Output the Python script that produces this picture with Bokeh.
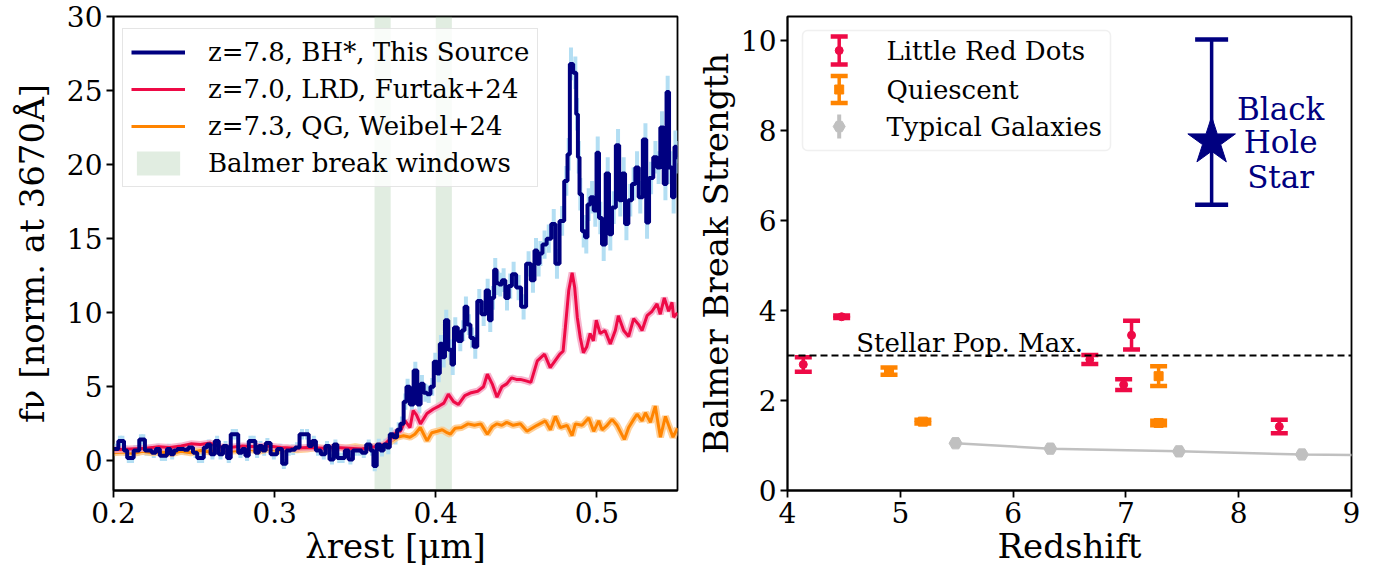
import numpy as np
from bokeh.plotting import figure
from bokeh.layouts import row
from bokeh.models import (Range1d, FixedTicker, Span, Label, Legend, LegendItem,
                          BoxAnnotation)
from bokeh.embed import file_html
from bokeh.resources import INLINE

FONT = "DejaVu Serif"

# ---------------------------------------------------------------- spectra
# rest-frame wavelength [um] and flux normalised at 3670 A
bh_wave = [
    0.2000, 0.2020, 0.2040, 0.2055, 0.2075, 0.2095, 0.2115, 0.2135, 0.2150, 0.2170,
    0.2185, 0.2205, 0.2225, 0.2250, 0.2275, 0.2300, 0.2320, 0.2343, 0.2364, 0.2385,
    0.2405, 0.2426, 0.2450, 0.2478, 0.2509, 0.2530, 0.2550, 0.2570, 0.2591, 0.2614,
    0.2643, 0.2664, 0.2695, 0.2715, 0.2740, 0.2760, 0.2788, 0.2808, 0.2829, 0.2850,
    0.2870, 0.2891, 0.2912, 0.2935, 0.2955, 0.2995, 0.3036, 0.3057, 0.3088, 0.3115,
    0.3139, 0.3170, 0.3201, 0.3222, 0.3243, 0.3269, 0.3305, 0.3325, 0.3356, 0.3377,
    0.3401, 0.3422, 0.3449, 0.3470, 0.3501, 0.3526, 0.3553, 0.3584, 0.3605, 0.3621,
    0.3646, 0.3666, 0.3687, 0.3705, 0.3724, 0.3750, 0.3770, 0.3790, 0.3811, 0.3825,
    0.3852, 0.3873, 0.3898, 0.3914, 0.3935, 0.3956, 0.3978, 0.3997, 0.4018, 0.4032,
    0.4049, 0.4065, 0.4090, 0.4105, 0.4121, 0.4152, 0.4170, 0.4187, 0.4205, 0.4225,
    0.4245, 0.4270, 0.4297, 0.4322, 0.4338, 0.4355, 0.4369, 0.4385, 0.4400, 0.4421,
    0.4442, 0.4462, 0.4483, 0.4514, 0.4545, 0.4576, 0.4603, 0.4622, 0.4638, 0.4649,
    0.4675, 0.4701, 0.4732, 0.4752, 0.4784, 0.4810, 0.4825, 0.4839, 0.4866, 0.4877,
    0.4887, 0.4897, 0.4918, 0.4934, 0.4949, 0.4970, 0.4990, 0.5005, 0.5021, 0.5042,
    0.5067, 0.5083, 0.5104, 0.5131, 0.5145, 0.5166, 0.5183, 0.5207, 0.5228, 0.5249,
    0.5269, 0.5301, 0.5311, 0.5336, 0.5363, 0.5383, 0.5404, 0.5425, 0.5439, 0.5456,
    0.5476, 0.5487, 0.5500,
]
bh_flux = [
    0.80, 0.80, 1.35, 1.35, 0.70, 0.20, 0.20, 0.70, 0.70, 1.45,
    1.45, 0.70, 0.70, 0.55, 0.80, 0.35, 0.35, 0.80, 0.45, 0.70,
    0.80, 0.80, 0.75, 0.90, 0.55, 0.20, 0.20, 0.90, 1.10, 0.45,
    1.35, 0.45, 1.00, 0.20, 1.80, 1.80, 0.55, 0.80, 0.35, 1.35,
    1.35, 0.55, 1.00, 0.70, 1.20, 0.45, 0.80, -0.20, 0.70, 0.75,
    0.90, 1.80, 1.80, 1.00, 1.35, 0.70, 0.45, 1.00, 0.10, 1.10,
    0.20, 0.20, 0.70, 0.10, 0.70, 0.70, 0.55, 1.10, 0.70, -0.35,
    1.10, 0.70, 1.10, 0.90, 1.80, 1.60, 2.10, 2.50, 4.00, 5.00,
    3.80, 6.10, 3.80, 5.20, 4.60, 4.50, 5.00, 6.70, 5.90, 7.90,
    7.00, 9.50, 7.50, 6.50, 9.00, 8.10, 8.80, 10.40, 9.20, 8.30,
    7.70, 10.80, 9.90, 11.50, 9.50, 11.00, 12.90, 12.00, 11.90, 12.20,
    11.00, 11.80, 12.60, 11.70, 10.40, 13.30, 12.20, 14.20, 13.30, 14.00,
    14.60, 15.00, 16.00, 13.30, 16.20, 18.90, 20.70, 26.80, 26.20, 23.40,
    20.50, 18.00, 15.50, 15.10, 17.30, 17.80, 16.90, 20.80, 16.40, 14.60,
    19.40, 15.30, 17.10, 21.30, 17.60, 19.40, 16.00, 17.60, 18.70, 19.80,
    17.80, 21.70, 16.10, 19.10, 20.50, 19.80, 22.50, 18.70, 24.90, 19.80,
    17.80, 21.20, 20.50,
]
bh_flux_err = [
    0.35, 0.35, 0.35, 0.35, 0.35, 0.35, 0.35, 0.35, 0.35, 0.35,
    0.35, 0.35, 0.35, 0.35, 0.35, 0.35, 0.35, 0.35, 0.35, 0.35,
    0.35, 0.35, 0.35, 0.35, 0.35, 0.35, 0.35, 0.35, 0.35, 0.35,
    0.35, 0.35, 0.35, 0.35, 0.35, 0.35, 0.35, 0.35, 0.35, 0.35,
    0.35, 0.35, 0.35, 0.35, 0.35, 0.35, 0.35, 0.35, 0.35, 0.35,
    0.35, 0.35, 0.35, 0.35, 0.35, 0.35, 0.35, 0.35, 0.35, 0.35,
    0.35, 0.35, 0.35, 0.35, 0.35, 0.35, 0.35, 0.35, 0.35, 0.35,
    0.40, 0.40, 0.40, 0.45, 0.45, 0.50, 0.50, 0.50, 0.55, 0.55,
    0.60, 0.60, 0.60, 0.60, 0.60, 0.60, 0.60, 0.60, 0.60, 0.60,
    0.70, 0.70, 0.70, 0.70, 0.70, 0.70, 0.70, 0.70, 0.70, 0.70,
    0.80, 0.80, 0.80, 0.80, 0.80, 0.80, 0.80, 0.80, 0.80, 0.80,
    0.85, 0.85, 0.85, 0.85, 0.85, 0.85, 0.85, 0.85, 0.85, 0.85,
    0.95, 0.95, 1.00, 1.00, 1.00, 1.00, 1.10, 1.10, 1.10, 1.10,
    1.10, 1.10, 1.10, 1.10, 1.10, 1.10, 1.10, 1.10, 1.10, 1.10,
    1.10, 1.10, 1.10, 1.10, 1.10, 1.10, 1.10, 1.10, 1.10, 1.10,
    1.10, 1.10, 1.10, 1.10, 1.10, 1.10, 1.10, 1.10, 1.10, 1.10,
    1.10, 1.10, 1.10,
]

lrd_wave = [
    0.200, 0.210, 0.220, 0.228, 0.235, 0.242, 0.248, 0.254, 0.260, 0.266,
    0.272, 0.280, 0.288, 0.296, 0.304, 0.312, 0.320, 0.330, 0.338, 0.346,
    0.354, 0.362, 0.368, 0.372, 0.376, 0.378, 0.381, 0.384, 0.386, 0.388,
    0.3905, 0.3945, 0.3985, 0.402, 0.405, 0.4078, 0.411, 0.414, 0.418, 0.422,
    0.426, 0.4296, 0.432, 0.435, 0.438, 0.441, 0.444, 0.447, 0.450, 0.4525,
    0.456, 0.459, 0.463, 0.4675, 0.471, 0.474, 0.477, 0.479, 0.4804, 0.4825,
    0.4846, 0.4862, 0.4878, 0.4897, 0.4916, 0.4937, 0.4958, 0.4978, 0.4996, 0.502,
    0.505, 0.5083, 0.5114, 0.5133, 0.5166, 0.5197, 0.5228, 0.5259, 0.528, 0.5311,
    0.5342, 0.5373, 0.5393, 0.5418, 0.5445, 0.5466, 0.5476, 0.550,
]
lrd_flux = [
    0.75, 0.80, 0.85, 0.95, 0.90, 1.00, 1.15, 1.10, 1.20, 0.95,
    0.90, 1.00, 0.95, 1.00, 0.90, 0.85, 0.90, 0.85, 0.90, 0.85,
    0.80, 0.95, 1.10, 1.50, 2.00, 2.00, 2.70, 2.25, 3.40, 3.10,
    2.50, 3.20, 3.50, 3.70, 3.90, 4.50, 4.00, 3.80, 4.40, 4.60,
    4.70, 5.00, 5.85, 5.20, 4.30, 5.00, 5.20, 5.60, 5.50, 5.50,
    5.40, 5.30, 6.75, 7.20, 6.30, 6.75, 7.20, 7.40, 9.00, 11.50,
    12.70, 11.70, 9.70, 8.30, 7.30, 7.70, 8.60, 8.10, 9.50, 8.60,
    8.80, 7.90, 8.80, 9.80, 8.80, 8.40, 9.60, 9.20, 8.80, 9.80,
    10.10, 10.60, 9.90, 11.00, 10.10, 10.70, 9.70, 10.00,
]

qg_wave = [
    0.200, 0.206, 0.212, 0.218, 0.224, 0.230, 0.236, 0.242, 0.248, 0.254,
    0.260, 0.266, 0.272, 0.278, 0.284, 0.290, 0.296, 0.302, 0.308, 0.314,
    0.320, 0.326, 0.332, 0.338, 0.344, 0.350, 0.356, 0.362, 0.368, 0.372,
    0.376, 0.380, 0.384, 0.387, 0.3904, 0.3925, 0.3946, 0.3975, 0.401, 0.404,
    0.407, 0.409, 0.412, 0.416, 0.420, 0.424, 0.428, 0.432, 0.435, 0.438,
    0.441, 0.444, 0.448, 0.4525, 0.4566, 0.4628, 0.468, 0.4711, 0.4742, 0.4773,
    0.4815, 0.4846, 0.4866, 0.4908, 0.4949, 0.498, 0.5011, 0.5032, 0.5063, 0.5094,
    0.5125, 0.517, 0.5197, 0.5228, 0.5249, 0.528, 0.5301, 0.5332, 0.5362, 0.5377,
    0.5394, 0.5425, 0.5445, 0.5472, 0.550,
]
qg_flux = [
    0.55, 0.60, 0.50, 0.65, 0.55, 0.60, 0.50, 0.65, 0.55, 0.70,
    0.60, 0.75, 0.65, 0.70, 0.80, 0.65, 0.80, 0.70, 0.85, 0.75,
    0.80, 0.90, 0.80, 0.95, 0.85, 0.95, 0.85, 0.95, 1.05, 1.30,
    1.60, 1.70, 1.60, 1.80, 2.25, 1.80, 1.35, 1.90, 2.00, 2.10,
    1.90, 1.80, 2.20, 2.25, 2.50, 2.40, 2.50, 1.80, 2.30, 2.50,
    2.40, 2.60, 2.40, 2.50, 2.00, 2.40, 2.70, 2.10, 3.00, 2.25,
    2.40, 1.70, 2.50, 2.40, 2.90, 2.00, 2.70, 2.10, 2.40, 2.80,
    2.40, 1.45, 2.25, 2.80, 3.15, 2.70, 3.25, 2.60, 3.70, 2.70,
    1.60, 3.00, 2.40, 1.60, 2.20,
]

# Balmer break measurement windows [um]
window_lo = [0.362, 0.400]
window_hi = [0.372, 0.410]

# ---------------------------------------------------------------- break strengths
lrd_z = [4.14, 4.48, 6.68, 6.98, 7.05, 8.36]
lrd_bb = [2.80, 3.86, 2.91, 2.35, 3.45, 1.42]
lrd_bb_err = [0.16, 0.03, 0.10, 0.12, 0.32, 0.15]

qui_z = [4.90, 5.20, 7.29, 7.29]
qui_bb = [2.65, 1.53, 2.54, 1.50]
qui_bb_err = [0.08, 0.04, 0.22, 0.05]

typ_z = [5.49, 6.33, 7.47, 8.56, 10.0]
typ_bb = [1.05, 0.93, 0.87, 0.80, 0.77]

bhs_z = [7.76]
bhs_bb = [7.75]
bhs_err_lo = [1.40]
bhs_err_hi = [2.27]

stellar_max = 3.0

# ---------------------------------------------------------------- colours
NAVY = "#000080"
SKY = "#b3def3"
RED = "#ee0a46"
PINK = "#f5a3c2"
ORANGE = "#ff8400"
LIGHT_ORANGE = "#ffc47f"
GREY = "#c0c0c0"
WINDOW = "#8fbc8f"

FRAME_W, FRAME_H = 564, 474


def style(p, xticks, yticks, xlabel, ylabel, x_standoff, y_standoff):
    p.xaxis[0].ticker = FixedTicker(ticks=xticks)
    p.yaxis[0].ticker = FixedTicker(ticks=yticks)
    p.xaxis[0].axis_label = xlabel
    p.yaxis[0].axis_label = ylabel
    p.xaxis[0].axis_label_standoff = x_standoff
    p.yaxis[0].axis_label_standoff = y_standoff
    for ax in (p.xaxis[0], p.yaxis[0]):
        ax.axis_line_color = "black"
        ax.axis_line_width = 1.8
        ax.major_tick_line_color = "black"
        ax.major_tick_line_width = 1.8
        ax.major_tick_out = 7
        ax.major_tick_in = 0
        ax.minor_tick_line_color = None
        ax.major_label_text_font = FONT
        ax.major_label_text_font_size = "28px"
        ax.major_label_text_color = "black"
        ax.major_label_standoff = 4
        ax.axis_label_text_font = FONT
        ax.axis_label_text_font_size = "34px"
        ax.axis_label_text_font_style = "normal"
        ax.axis_label_text_color = "black"
    p.xgrid.visible = False
    p.ygrid.visible = False
    p.outline_line_color = "black"
    p.outline_line_width = 1.8
    p.outline_line_alpha = 1.0


# ================================================================ left panel
Y_LO, Y_HI = -2.0, 30.0
p1 = figure(width=691, height=574, x_range=Range1d(0.2, 0.55), y_range=Range1d(Y_LO, Y_HI),
            output_backend="svg", toolbar_location=None,
            min_border_left=113, min_border_right=14, min_border_top=16, min_border_bottom=84)
style(p1, [0.2, 0.3, 0.4, 0.5], [0, 5, 10, 15, 20, 25, 30],
      "\u03bbrest [\u03bcm]", "f\u03bd [norm. at 3670\u00c5]", 0, 12)

r_win = p1.quad(left=window_lo, right=window_hi, bottom=Y_LO, top=Y_HI,
                fill_color=WINDOW, fill_alpha=0.27, line_color=None)

bh_w = np.array(bh_wave)
bh_f = np.array(bh_flux)
bh_e = np.array(bh_flux_err)
p1.segment(x0=bh_w, y0=bh_f - bh_e, x1=bh_w, y1=bh_f + bh_e,
           line_color=SKY, line_width=4, line_cap="butt")

p1.line(qg_wave, qg_flux, line_color=LIGHT_ORANGE, line_width=7, line_alpha=0.8)
r_qg = p1.line(qg_wave, qg_flux, line_color=ORANGE, line_width=3)
p1.line(lrd_wave, lrd_flux, line_color=PINK, line_width=7, line_alpha=0.8)
r_lrd = p1.line(lrd_wave, lrd_flux, line_color=RED, line_width=3)
r_bh = p1.step(bh_wave, bh_flux, mode="center", line_color=NAVY, line_width=4)

legend1 = Legend(
    items=[
        LegendItem(label="z=7.8, BH*, This Source", renderers=[r_bh]),
        LegendItem(label="z=7.0, LRD, Furtak+24", renderers=[r_lrd]),
        LegendItem(label="z=7.3, QG, Weibel+24", renderers=[r_qg]),
        LegendItem(label="Balmer break windows", renderers=[r_win]),
    ],
    location=(9, FRAME_H - 14 - 157),
    padding=8, spacing=7, margin=0,
    glyph_width=54, glyph_height=30, label_height=30, label_standoff=23,
    label_text_font=FONT, label_text_font_size="26px", label_text_color="black",
    border_line_color="#cccccc", border_line_width=1.5,
    background_fill_color="white", background_fill_alpha=0.8,
)
p1.add_layout(legend1)

# ================================================================ right panel
p2 = figure(width=691, height=574, x_range=Range1d(4, 9), y_range=Range1d(0, 10.53),
            output_backend="svg", toolbar_location=None,
            min_border_left=96, min_border_right=31, min_border_top=16, min_border_bottom=84)
style(p2, [4, 5, 6, 7, 8, 9], [0, 2, 4, 6, 8, 10],
      "Redshift", "Balmer Break Strength", 0, 2)
p2.extra_x_ranges = {"px": Range1d(0, FRAME_W)}
p2.extra_y_ranges = {"px": Range1d(0, FRAME_H)}

p2.add_layout(Span(location=stellar_max, dimension="width", line_color="black",
                   line_width=2, line_dash="7 4"))
p2.add_layout(Label(x=4.61, y=stellar_max, y_offset=12, text="Stellar Pop. Max.",
                    text_font=FONT, text_font_size="26px", text_color="black",
                    text_baseline="alphabetic"))

# typical galaxies
p2.line(typ_z, typ_bb, line_color=GREY, line_width=2.5)
p2.scatter(typ_z, typ_bb, marker="hex", size=13, fill_color=GREY, line_color=GREY)


def errorbars(p, z, val, lo, hi, color, cap, width, cap_width):
    z = np.array(z)
    val = np.array(val)
    bottom = val - np.array(lo)
    top = val + np.array(hi)
    p.segment(x0=z, y0=bottom, x1=z, y1=top, line_color=color, line_width=width,
              line_cap="butt")
    p.scatter(np.concatenate([z, z]), np.concatenate([bottom, top]), marker="dash",
              size=cap, line_color=color, line_width=cap_width)


errorbars(p2, qui_z, qui_bb, qui_bb_err, qui_bb_err, ORANGE, 17, 3.5, 4.5)
p2.scatter(qui_z, qui_bb, marker="square", size=9, fill_color=ORANGE, line_color=ORANGE)
errorbars(p2, lrd_z, lrd_bb, lrd_bb_err, lrd_bb_err, RED, 17, 3.5, 4.5)
p2.scatter(lrd_z, lrd_bb, marker="circle", size=8, fill_color=RED, line_color=RED)

errorbars(p2, bhs_z, bhs_bb, bhs_err_lo, bhs_err_hi, NAVY, 33, 3.5, 4.5)
p2.scatter(bhs_z, bhs_bb, marker="star", size=50, fill_color=NAVY, line_color=NAVY)
for word, dy in (("Black", 33), ("Hole", 0), ("Star", -35)):
    p2.add_layout(Label(x=bhs_z[0], y=bhs_bb[0], x_offset=69, y_offset=dy, text=word,
                        text_font=FONT, text_font_size="31px", text_color=NAVY,
                        text_align="center", text_baseline="alphabetic"))

# legend box with error-bar keys, laid out in frame pixels
p2.add_layout(BoxAnnotation(left=15, right=323, top=460, bottom=340,
                            left_units="screen", right_units="screen",
                            top_units="screen", bottom_units="screen",
                            fill_color="white", fill_alpha=0.8,
                            line_color="#cccccc", line_width=1.5,
                            border_radius=5, level="underlay"))
key_x = 51.7
key_rows = [(440, RED, "circle", 8, 14, True, "Little Red Dots"),
            (401, ORANGE, "square", 9, 13.5, True, "Quiescent"),
            (364, GREY, "hex", 12, 12, False, "Typical Galaxies")]
for ky, col, mk, msize, half, caps, text in key_rows:
    p2.segment(x0=[key_x], y0=[ky - half], x1=[key_x], y1=[ky + half],
               line_color=col, line_width=3.5 if caps else 4, line_cap="butt",
               x_range_name="px", y_range_name="px")
    if caps:
        p2.scatter([key_x, key_x], [ky - half, ky + half], marker="dash", size=17,
                   line_color=col, line_width=4.5, x_range_name="px", y_range_name="px")
    p2.scatter([key_x], [ky], marker=mk, size=msize, fill_color=col, line_color=col,
               x_range_name="px", y_range_name="px")
    p2.add_layout(Label(x=99, y=ky, x_units="screen", y_units="screen", text=text,
                        text_font=FONT, text_font_size="26px", text_color="black",
                        text_baseline="middle"))

layout = row(p1, p2)
open("out.html", "w").write(file_html(layout, INLINE))
